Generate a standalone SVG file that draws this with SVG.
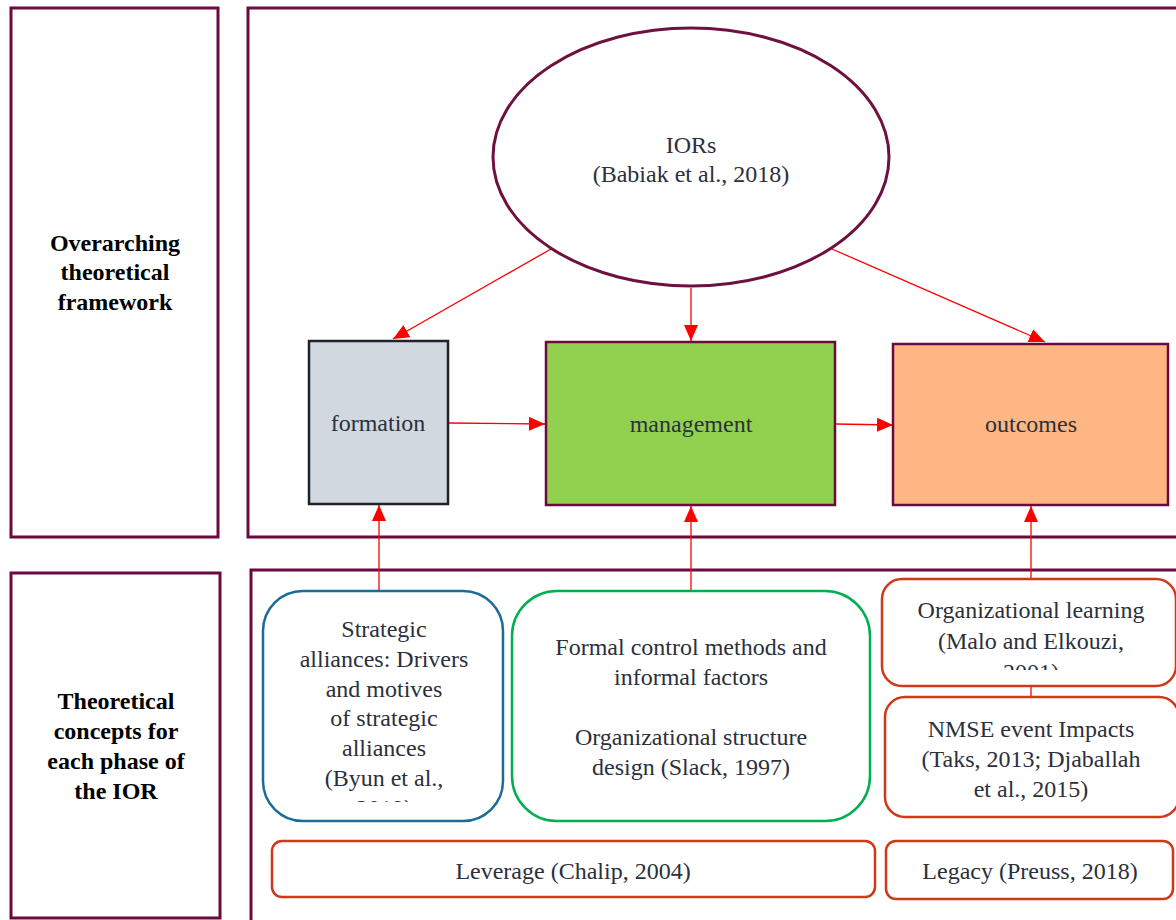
<svg xmlns="http://www.w3.org/2000/svg" width="1176" height="920" viewBox="0 0 1176 920">
<style>
.frame{fill:none;stroke:#6a0a3f;stroke-width:3}
.t{font-family:"Liberation Serif","Times New Roman",serif;font-size:24px;fill:#2b303b;text-anchor:middle}
.lbl{font-family:"Liberation Serif","Times New Roman",serif;font-size:24px;font-weight:bold;fill:#000;text-anchor:middle}
.conn{stroke:#ff0000;stroke-width:1.3;fill:none}
.red{fill:#fff;stroke:#d0381a;stroke-width:2.5}
</style>
<defs>
<marker id="ah" viewBox="0 0 16 14" refX="16" refY="7" markerWidth="16" markerHeight="14" markerUnits="userSpaceOnUse" orient="auto">
<path d="M0,0 L16,7 L0,14 Z" fill="#ff0000"/>
</marker>
<clipPath id="clipByun"><rect x="263" y="591" width="241" height="211"/></clipPath>
<clipPath id="clipMalo"><rect x="882" y="578" width="294" height="92"/></clipPath>
</defs>
<rect width="1176" height="920" fill="#fff"/>

<g id="frames">
<rect class="frame" x="11" y="8" width="207" height="529"/>
<rect class="frame" x="248" y="8" width="940" height="529"/>
<rect class="frame" x="11" y="573" width="209" height="345"/>
<rect class="frame" x="251" y="570" width="940" height="360"/>
</g>

<g id="label-overarching">
<text class="lbl" x="115" y="251">Overarching</text>
<text class="lbl" x="115" y="280">theoretical</text>
<text class="lbl" x="115" y="310">framework</text>
</g>
<g id="label-concepts">
<text class="lbl" x="116" y="709">Theoretical</text>
<text class="lbl" x="116" y="739">concepts for</text>
<text class="lbl" x="116" y="769">each phase of</text>
<text class="lbl" x="116" y="799">the IOR</text>
</g>

<g id="connectors">
<line class="conn" x1="551" y1="249" x2="393" y2="339" marker-end="url(#ah)"/>
<line class="conn" x1="691" y1="288" x2="691" y2="341" marker-end="url(#ah)"/>
<line class="conn" x1="832" y1="249" x2="1045" y2="342" marker-end="url(#ah)"/>
<line class="conn" x1="449" y1="423" x2="545" y2="424" marker-end="url(#ah)"/>
<line class="conn" x1="836" y1="424" x2="893" y2="425" marker-end="url(#ah)"/>
<line class="conn" x1="379" y1="591" x2="379" y2="505" marker-end="url(#ah)"/>
<line class="conn" x1="691" y1="591" x2="691" y2="506" marker-end="url(#ah)"/>
<line class="conn" x1="1031" y1="578" x2="1031" y2="506" marker-end="url(#ah)"/>
<line class="conn" x1="1031" y1="686" x2="1031" y2="697"/>
</g>

<g id="node-iors">
<ellipse cx="691" cy="157" rx="198" ry="129" fill="#fff" stroke="#6e1040" stroke-width="3"/>
<text class="t" x="691" y="153">IORs</text>
<text class="t" x="691" y="182">(Babiak et al., 2018)</text>
</g>

<g id="node-formation">
<rect x="309" y="341" width="139" height="163" fill="#d1d8e0" stroke="#1f2328" stroke-width="2.5"/>
<text class="t" x="378" y="431">formation</text>
</g>
<g id="node-management">
<rect x="546" y="342" width="289" height="163" fill="#92d050" stroke="#6a0a3f" stroke-width="2.5"/>
<text class="t" x="691" y="432">management</text>
</g>
<g id="node-outcomes">
<rect x="893" y="344" width="275" height="161" fill="#ffb685" stroke="#6a0a3f" stroke-width="2.5"/>
<text class="t" x="1031" y="432">outcomes</text>
</g>

<g id="node-strategic">
<rect x="263" y="591" width="240" height="230" rx="40" fill="#fff" stroke="#1d6b98" stroke-width="2.5"/>
<g clip-path="url(#clipByun)">
<text class="t" x="384" y="637">Strategic</text>
<text class="t" x="384" y="667">alliances: Drivers</text>
<text class="t" x="384" y="697">and motives</text>
<text class="t" x="384" y="726">of strategic</text>
<text class="t" x="384" y="756">alliances</text>
<text class="t" x="384" y="786">(Byun et al.,</text>
<text class="t" x="384" y="816">2019)</text>
</g>
</g>

<g id="node-formal">
<rect x="512" y="591" width="358" height="230" rx="45" fill="#fff" stroke="#00b050" stroke-width="2.5"/>
<text class="t" x="691" y="655">Formal control methods and</text>
<text class="t" x="691" y="685">informal factors</text>
<text class="t" x="691" y="745">Organizational structure</text>
<text class="t" x="691" y="775">design (Slack, 1997)</text>
</g>

<g id="node-learning">
<rect class="red" x="882" y="579" width="294" height="107" rx="20"/>
<g clip-path="url(#clipMalo)">
<text class="t" x="1031" y="618">Organizational learning</text>
<text class="t" x="1031" y="649">(Malo and Elkouzi,</text>
<text class="t" x="1031" y="680">2001)</text>
</g>
</g>

<g id="node-nmse">
<rect class="red" x="885" y="697" width="294" height="120" rx="20"/>
<text class="t" x="1031" y="737">NMSE event Impacts</text>
<text class="t" x="1031" y="767">(Taks, 2013; Djaballah</text>
<text class="t" x="1031" y="797">et al., 2015)</text>
</g>

<g id="node-leverage">
<rect class="red" x="272" y="841" width="603" height="56" rx="10"/>
<text class="t" x="573" y="879">Leverage (Chalip, 2004)</text>
</g>
<g id="node-legacy">
<rect class="red" x="886" y="841" width="287" height="58" rx="10"/>
<text class="t" x="1030" y="879">Legacy (Preuss, 2018)</text>
</g>
</svg>
